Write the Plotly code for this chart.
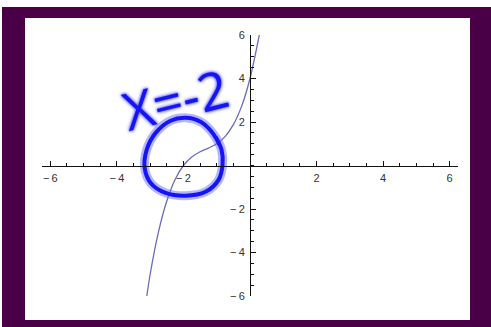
import plotly.graph_objects as go

# Curve samples (x, y)
curve_x = [-3.10, -3.0, -2.75, -2.5, -2.25, -2.0, -1.75, -1.5, -1.25, -1.0,
           -0.75, -0.5, -0.25, 0.0, 0.25, 0.28]
curve_y = [-6.0, -5.0, -3.05, -1.63, -0.64, 0.0, 0.39, 0.63, 0.80, 1.0,
           1.33, 1.88, 2.73, 4.0, 5.77, 6.0]

# Hand-drawn loop around the root
loop_x = [-1.035, -0.855, -0.825, -0.945, -1.335, -1.935, -2.535, -2.985,
          -3.165, -3.105, -2.835, -2.385, -1.935, -1.485, -1.125, -0.915]
loop_y = [1.32, 0.72, 0.03, -0.66, -1.21, -1.39, -1.26, -0.80,
          -0.11, 0.72, 1.50, 2.06, 2.19, 2.01, 1.50, 0.95]

tick_vals = [-6, -4, -2, 2, 4, 6]
tick_text = ["\u2212\u20096", "\u2212\u20094", "\u2212\u20092", "2", "4", "6"]

W, H = 491, 327
ML, MR, MT, MB = 42, 33, 35, 31
PW, PH = W - ML - MR, H - MT - MB


def px(x):
    return (x - ML) / PW


def py(y):
    return 1 - (y - MT) / PH


PURPLE = "#4a0046"
INK = "#1414f5"
GLOW = "rgba(110,110,255,0.5)"

fig = go.Figure()

fig.add_trace(go.Scatter(
    x=curve_x, y=curve_y, mode="lines", line_shape="spline",
    line=dict(color="#5c5cb4", width=1.3), opacity=0.9,
    hoverinfo="skip", showlegend=False))

fig.add_trace(go.Scatter(
    x=loop_x, y=loop_y, mode="lines", line_shape="spline",
    line=dict(color=GLOW, width=9), hoverinfo="skip", showlegend=False,
    cliponaxis=False))
fig.add_trace(go.Scatter(
    x=loop_x, y=loop_y, mode="lines", line_shape="spline",
    line=dict(color=INK, width=4), hoverinfo="skip", showlegend=False,
    cliponaxis=False))

# Frame
fig.add_shape(type="rect", xref="paper", yref="paper",
              x0=px(2), x1=px(492), y0=py(328), y1=py(7),
              fillcolor=PURPLE, line_width=0, layer="below")
fig.add_shape(type="rect", xref="paper", yref="paper",
              x0=px(25), x1=px(470), y0=py(320), y1=py(18),
              fillcolor="white", line_width=0, layer="below")

fig.add_annotation(
    text="X=-2", xref="paper", yref="paper", x=px(175), y=py(98),
    xanchor="center", yanchor="middle", showarrow=False, textangle=-14,
    font=dict(family="Open Sans", size=52, color=INK, weight=400,
              shadow="0 0 2px #6e6eff, 0 0 3px #6e6eff, 0 0 4px #8c8cff"))

axis_font = dict(family="Liberation Sans", size=11, color="#333333")

fig.update_layout(
    width=W, height=H,
    margin=dict(l=ML, r=MR, t=MT, b=MB),
    paper_bgcolor="white", plot_bgcolor="rgba(0,0,0,0)",
    xaxis=dict(range=[-6.25, 6.25], anchor="free", position=0.5,
               showgrid=False, zeroline=False, showline=True,
               linecolor="#111111", linewidth=1,
               tickmode="array", tickvals=tick_vals, ticktext=tick_text,
               ticks="inside", ticklen=5, tickwidth=1, tickcolor="#111111",
               tickfont=axis_font, ticklabelstandoff=2,
               minor=dict(tickmode="linear", tick0=0, dtick=0.5,
                          ticks="inside", ticklen=3, tickwidth=1,
                          tickcolor="#111111", showgrid=False)),
    yaxis=dict(range=[-6, 6], anchor="free", position=0.5,
               showgrid=False, zeroline=False, showline=True,
               linecolor="#111111", linewidth=1,
               tickmode="array", tickvals=tick_vals, ticktext=tick_text,
               ticks="inside", ticklen=5, tickwidth=1, tickcolor="#111111",
               tickfont=axis_font, ticklabelstandoff=3,
               minor=dict(tickmode="linear", tick0=0, dtick=0.5,
                          ticks="inside", ticklen=3, tickwidth=1,
                          tickcolor="#111111", showgrid=False)),
)

fig.write_html("out.html")
